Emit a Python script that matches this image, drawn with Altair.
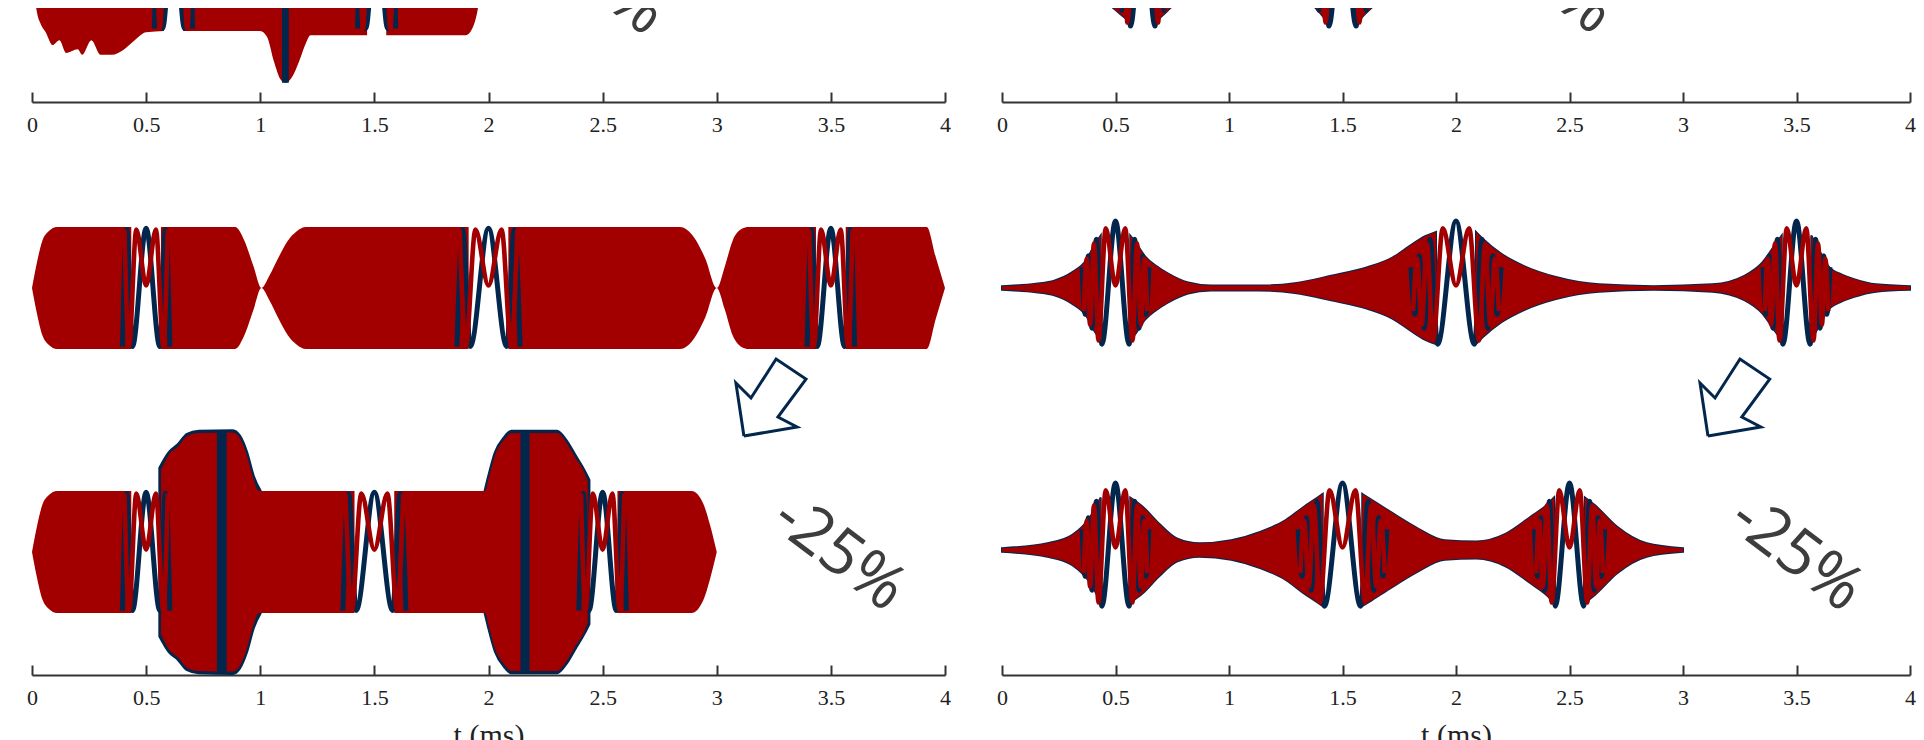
import altair as alt
import pandas as pd

RED = "#a20000"
BLUE = "#03264d"
AXIS_C = "#333333"
LABEL_C = "#222222"
NOTE_C = "#3d3d3d"

X_TICKS = [0, 0.5, 1, 1.5, 2, 2.5, 3, 3.5, 4]

# ---- slow-oscillation templates around stationary points (offsets in ms, amplitude units)
BURST_BLUE_DT = [-0.147, -0.134, -0.12, -0.104, -0.085, -0.06, 0.0, 0.06, 0.085, 0.104, 0.12, 0.134, 0.147]
BURST_BLUE_Y = [0.34, -0.43, 0.53, -0.66, 0.80, -0.92, 1.10, -0.92, 0.80, -0.66, 0.53, -0.43, 0.34]
BURST_RED_DT = [-0.14, -0.127, -0.112, -0.095, -0.075, -0.043, 0.0, 0.043, 0.075, 0.095, 0.112, 0.127, 0.14]
BURST_RED_Y = [-0.38, 0.48, -0.60, 0.73, -0.86, 0.98, 0.04, 0.98, -0.86, 0.73, -0.60, 0.48, -0.38]
FLAT_BLUE_DT = [-0.104, -0.085, -0.06, 0.0, 0.06, 0.085, 0.104]
FLAT_BLUE_Y = [-0.96, 0.96, -0.96, 0.98, -0.96, 0.96, -0.96]
FLAT_RED_DT = [-0.095, -0.075, -0.043, 0.0, 0.043, 0.075, 0.095]
FLAT_RED_Y = [0.96, -0.96, 0.96, 0.04, 0.96, -0.96, 0.96]

# ---- top-left panel (-50 %)
TL_T = [[0.0, 0.02, 0.04, 0.06, 0.09, 0.12, 0.15, 0.2, 0.22, 0.26, 0.3, 0.35, 0.4, 0.45, 0.5, 0.578],
        [0.662, 1.0, 1.03, 1.06, 1.09, 1.11, 1.14, 1.17, 1.2, 1.22, 1.468],
        [1.552, 1.9, 1.93, 1.955, 1.975]]
TL_A = [[0.0, 0.66, 0.9, 1.02, 1.23, 1.15, 1.36, 1.3, 1.39, 1.15, 1.39, 1.39, 1.31, 1.15, 1.02, 1.0],
        [1.0, 1.0, 1.1, 1.5, 1.8, 1.85, 1.75, 1.5, 1.2, 1.07, 1.07],
        [1.07, 1.07, 0.95, 0.6, 0.0]]
TL_LOOPS = [0.62, 1.51]
TL_WIDTHS = [0.8, 0.8]
TL_COL_T0 = [1.095]
TL_COL_T1 = [1.125]
TL_COL_A = [1.85]

# ---- top-right panel (-50 %)
TR_T = [[0.0, 0.3, 0.45, 0.53, 0.561],
        [0.679, 0.72, 0.8, 0.95, 1.15, 1.3, 1.4, 1.435],
        [1.565, 1.6, 1.7, 1.85, 2.0]]
TR_A = [[0.04, 0.2, 0.5, 0.75, 0.84],
        [0.84, 0.7, 0.42, 0.18, 0.15, 0.35, 0.7, 0.86],
        [0.86, 0.72, 0.4, 0.15, 0.03]]
TR_LOOPS = [0.62, 1.5]
TR_WIDTHS = [0.9, 1.0]

# ---- left middle panel
LM_T = [[0.0, 0.02, 0.045, 0.073, 0.11, 0.435],
        [0.565, 0.89, 0.93, 0.97, 1.005, 1.04, 1.08, 1.12, 1.16, 1.2, 1.913],
        [2.087, 2.84, 2.89, 2.95, 3.0, 3.035, 3.07, 3.11, 3.14, 3.435],
        [3.565, 3.92, 3.96, 4.0]]
LM_A = [[0.0, 0.39, 0.77, 0.93, 1.0, 1.0],
        [1.0, 1.0, 0.78, 0.36, 0.0, 0.2, 0.5, 0.77, 0.93, 1.0, 1.0],
        [1.0, 1.0, 0.88, 0.48, 0.0, 0.35, 0.78, 0.97, 1.0, 1.0],
        [1.0, 1.0, 0.5, 0.0]]
LM_LOOPS = [0.5, 2.0, 3.5]
LM_WIDTHS = [1.0, 1.33, 1.0]

# ---- left bottom panel (-25 %)
LB_T = [[0.0, 0.02, 0.045, 0.073, 0.11, 0.435],
        [0.565, 0.6, 0.64, 0.68, 0.73, 0.88, 0.91, 0.94, 0.97, 0.995, 1.413],
        [1.587, 1.985, 2.0, 2.03, 2.07, 2.1, 2.3, 2.34, 2.38, 2.42, 2.435],
        [2.565, 2.89, 2.94, 2.97, 3.0]]
LB_A = [[0.0, 0.39, 0.77, 0.93, 1.0, 1.0],
        [1.35, 1.6, 1.73, 1.9, 1.95, 1.96, 1.87, 1.6, 1.2, 1.0, 1.0],
        [1.0, 1.0, 1.2, 1.6, 1.85, 1.95, 1.95, 1.8, 1.55, 1.3, 1.15],
        [1.0, 1.0, 0.8, 0.45, 0.0]]
LB_HALO_T = [[0.56, 0.6, 0.64, 0.68, 0.73, 0.88, 0.91, 0.94, 0.97, 1.0],
             [1.985, 2.0, 2.03, 2.07, 2.1, 2.3, 2.34, 2.38, 2.42, 2.44]]
LB_HALO_A = [[1.38, 1.63, 1.76, 1.93, 1.98, 1.99, 1.9, 1.64, 1.24, 1.0],
             [1.0, 1.23, 1.63, 1.88, 1.98, 1.98, 1.83, 1.58, 1.33, 1.18]]
LB_LOOPS = [0.5, 1.5, 2.5]
LB_WIDTHS = [1.0, 1.33, 1.0]
LB_COL_T0 = [0.81, 2.14]
LB_COL_T1 = [0.853, 2.18]
LB_COL_A = [1.97, 1.97]

# ---- right middle panel
RM_T = [[0.0, 0.15, 0.23, 0.31, 0.37, 0.41, 0.435],
        [0.565, 0.59, 0.63, 0.68, 0.73, 0.82, 0.92, 1.13, 1.29, 1.45, 1.61, 1.72, 1.8, 1.86, 1.912],
        [2.088, 2.12, 2.2, 2.3, 2.44, 2.63, 2.87, 3.13, 3.27, 3.35, 3.4, 3.435],
        [3.565, 3.6, 3.64, 3.7, 3.75, 3.85, 4.0]]
RM_A = [[0.03, 0.07, 0.12, 0.26, 0.45, 0.72, 0.86],
        [0.86, 0.74, 0.52, 0.36, 0.24, 0.09, 0.04, 0.04, 0.08, 0.2, 0.34, 0.5, 0.7, 0.84, 0.92],
        [0.92, 0.8, 0.56, 0.36, 0.18, 0.06, 0.03, 0.06, 0.2, 0.42, 0.68, 0.86],
        [0.86, 0.62, 0.36, 0.22, 0.15, 0.06, 0.03]]
RM_LOOPS = [0.5, 2.0, 3.5]
RM_WIDTHS = [1.0, 1.35, 1.0]

# ---- right bottom panel (-25 %)
RB_T = [[0.0, 0.2, 0.31, 0.39, 0.435],
        [0.565, 0.62, 0.69, 0.77, 0.87, 1.01, 1.14, 1.25, 1.33, 1.39, 1.413],
        [1.587, 1.63, 1.71, 1.82, 1.95, 2.09, 2.22, 2.33, 2.4, 2.432],
        [2.568, 2.61, 2.71, 2.84, 3.0]]
RB_A = [[0.03, 0.11, 0.25, 0.55, 0.86],
        [0.86, 0.71, 0.44, 0.19, 0.11, 0.16, 0.3, 0.49, 0.71, 0.86, 0.92],
        [0.92, 0.82, 0.63, 0.38, 0.16, 0.14, 0.27, 0.55, 0.74, 0.86],
        [0.86, 0.74, 0.38, 0.11, 0.03]]
RB_LOOPS = [0.5, 1.5, 2.5]
RB_WIDTHS = [1.0, 1.33, 1.05]

# ---- annotations
NOTE_TOP = "-50%"
NOTE_BOT = "-25%"
TOP_NOTE_T = [2.484, 2.40]
TOP_NOTE_Y = [-0.131, -0.115]
BOT_NOTE_T = [3.535, 3.498]
BOT_NOTE_Y = [-0.03, -0.07]
ARROW_DT = [0.0, -0.035, 0.031, 0.141, 0.272, 0.149, 0.233, 0.0]
ARROW_DY = [0.0, 0.868, 0.623, 1.262, 0.934, 0.311, 0.147, 0.0]
ARROW_TIP_T = [3.119, 3.11]
ARROW_TIP_Y = [1.902, 1.869]

COL_W = [913, 908]
COL_GAP = 57
H_TOP, H_MID, H_BOT = 94, 235, 318
DOM_TOP = [-2.164, -0.623]
DOM_MID = [-0.967, 2.885]
DOM_BOT = [[-2.016, 3.197], [-2.049, 3.164]]


def env_frame(ts, amps):
    rows = []
    for k, (tl, al) in enumerate(zip(ts, amps)):
        for t, a in zip(tl, al):
            rows.append({"seg": k, "t": t, "hi": a, "lo": -a})
    return pd.DataFrame(rows)


def loop_frame(centers, widths, dts, ys):
    rows = []
    for k, (c, w) in enumerate(zip(centers, widths)):
        for d, y in zip(dts, ys):
            rows.append({"loop": k, "t": c + d * w, "y": y})
    return pd.DataFrame(rows)


def panel(width, height, ydom, env, lb, lr, clip=False, halo=None, halo_w=3, cols=None,
          note=None, arrow=None, axis=False):
    xs = alt.Scale(domain=[0, 4], nice=False, zero=False)
    ys = alt.Scale(domain=ydom, nice=False, zero=False)

    def X(field="t", ax=None):
        return alt.X(f"{field}:Q", scale=xs, axis=ax)

    def Y(field="y"):
        return alt.Y(f"{field}:Q", scale=ys, axis=None)

    layers = []
    if halo is not None:
        layers.append(alt.Chart(halo).mark_area(
            color=BLUE, stroke=BLUE, strokeWidth=halo_w, interpolate="monotone", clip=clip
        ).encode(x=X(), y=Y("hi"), y2=alt.Y2("lo:Q"), detail="seg:N"))
    tick_ax = None
    if axis:
        tick_ax = alt.Axis(orient="top", offset=-height, values=X_TICKS, labels=False,
                           ticks=True, tickSize=10, tickWidth=2, tickColor=AXIS_C,
                           domain=True, domainWidth=2, domainColor=AXIS_C, grid=False,
                           title=None)
    layers.append(alt.Chart(env).mark_area(
        color=RED, interpolate="monotone", clip=clip
    ).encode(x=X(ax=tick_ax), y=Y("hi"), y2=alt.Y2("lo:Q"), detail="seg:N"))
    if cols is not None:
        layers.append(alt.Chart(cols).mark_rect(color=BLUE, clip=clip).encode(
            x=X("t0"), x2=alt.X2("t1:Q"), y=Y("hi"), y2=alt.Y2("lo:Q")))
    layers.append(alt.Chart(lb).mark_line(
        color=BLUE, strokeWidth=5, interpolate="monotone", clip=clip
    ).encode(x=X(), y=Y(), detail="loop:N"))
    layers.append(alt.Chart(lr).mark_line(
        color=RED, strokeWidth=4.6, interpolate="monotone", clip=clip
    ).encode(x=X(), y=Y(), detail="loop:N"))
    if note is not None:
        layers.append(alt.Chart(note).mark_text(
            angle=37, font="Open Sans", fontSize=64, color=NOTE_C, align="center",
            baseline="middle", clip=clip
        ).encode(x=X(), y=Y(), text="label:N"))
    if arrow is not None:
        layers.append(alt.Chart(arrow).mark_line(
            color=BLUE, strokeWidth=3, strokeJoin="miter", clip=clip
        ).encode(x=X(), y=Y(), order="o:Q"))
    if axis:
        lab_ax = alt.Axis(orient="bottom", values=X_TICKS, labels=True, ticks=False,
                          tickSize=0, domain=False, grid=False, format="~g",
                          labelFlush=False, labelFont="Liberation Serif",
                          labelFontSize=22, labelColor=LABEL_C, labelPadding=12,
                          title="t (ms)" if height > 200 else None,
                          titleFont="Liberation Serif", titleFontSize=30,
                          titleFontWeight="normal", titleColor=LABEL_C, titlePadding=12)
        dummy = pd.DataFrame({"t": [0.0], "y": [ydom[0]]})
        layers.append(alt.Chart(dummy).mark_point(opacity=0, clip=clip).encode(
            x=X(ax=lab_ax), y=Y()))
    ch = alt.layer(*layers).properties(width=width, height=height)
    if axis:
        ch = ch.resolve_axis(x="independent")
    return ch


def note_frame(label, t, y):
    return pd.DataFrame({"t": [t], "y": [y], "label": [label]})


def arrow_frame(t0, y0):
    return pd.DataFrame({"o": list(range(len(ARROW_DT))),
                         "t": [t0 + d for d in ARROW_DT],
                         "y": [y0 + d for d in ARROW_DY]})


def col_frame(t0, t1, a):
    return pd.DataFrame({"t0": t0, "t1": t1, "hi": a, "lo": [-v for v in a]})


# ---- left column
tl = panel(COL_W[0], H_TOP, DOM_TOP, env_frame(TL_T, TL_A),
           loop_frame(TL_LOOPS, TL_WIDTHS, FLAT_BLUE_DT, FLAT_BLUE_Y),
           loop_frame(TL_LOOPS, TL_WIDTHS, FLAT_RED_DT, FLAT_RED_Y),
           clip=True, cols=col_frame(TL_COL_T0, TL_COL_T1, TL_COL_A),
           note=note_frame(NOTE_TOP, TOP_NOTE_T[0], TOP_NOTE_Y[0]), axis=True)
lm = panel(COL_W[0], H_MID, DOM_MID, env_frame(LM_T, LM_A),
           loop_frame(LM_LOOPS, LM_WIDTHS, FLAT_BLUE_DT, FLAT_BLUE_Y),
           loop_frame(LM_LOOPS, LM_WIDTHS, FLAT_RED_DT, FLAT_RED_Y))
lb = panel(COL_W[0], H_BOT, DOM_BOT[0], env_frame(LB_T, LB_A),
           loop_frame(LB_LOOPS, LB_WIDTHS, FLAT_BLUE_DT, FLAT_BLUE_Y),
           loop_frame(LB_LOOPS, LB_WIDTHS, FLAT_RED_DT, FLAT_RED_Y),
           halo=env_frame(LB_HALO_T, LB_HALO_A),
           cols=col_frame(LB_COL_T0, LB_COL_T1, LB_COL_A),
           note=note_frame(NOTE_BOT, BOT_NOTE_T[0], BOT_NOTE_Y[0]),
           arrow=arrow_frame(ARROW_TIP_T[0], ARROW_TIP_Y[0]), axis=True)

# ---- right column
rm_env = env_frame(RM_T, RM_A)
rb_env = env_frame(RB_T, RB_A)
tr_env = env_frame(TR_T, TR_A)
tr = panel(COL_W[1], H_TOP, DOM_TOP, tr_env,
           loop_frame(TR_LOOPS, TR_WIDTHS, BURST_BLUE_DT, BURST_BLUE_Y),
           loop_frame(TR_LOOPS, TR_WIDTHS, BURST_RED_DT, BURST_RED_Y),
           clip=True, halo=tr_env, halo_w=2,
           note=note_frame(NOTE_TOP, TOP_NOTE_T[1], TOP_NOTE_Y[1]), axis=True)
rm = panel(COL_W[1], H_MID, DOM_MID, rm_env,
           loop_frame(RM_LOOPS, RM_WIDTHS, BURST_BLUE_DT, BURST_BLUE_Y),
           loop_frame(RM_LOOPS, RM_WIDTHS, BURST_RED_DT, BURST_RED_Y),
           halo=rm_env, halo_w=2)
rb = panel(COL_W[1], H_BOT, DOM_BOT[1], rb_env,
           loop_frame(RB_LOOPS, RB_WIDTHS, BURST_BLUE_DT, BURST_BLUE_Y),
           loop_frame(RB_LOOPS, RB_WIDTHS, BURST_RED_DT, BURST_RED_Y),
           halo=rb_env, halo_w=2,
           note=note_frame(NOTE_BOT, BOT_NOTE_T[1], BOT_NOTE_Y[1]),
           arrow=arrow_frame(ARROW_TIP_T[1], ARROW_TIP_Y[1]), axis=True)

chart = alt.concat(tl, tr, lm, rm, lb, rb, columns=2,
                   spacing={"row": 10, "column": COL_GAP}, bounds="flush").properties(
    padding={"left": 18, "top": 0, "right": 0, "bottom": 0}
).configure_view(stroke="transparent", strokeWidth=0)

chart.save("out.html", embed_options={"renderer": "svg", "actions": False})
